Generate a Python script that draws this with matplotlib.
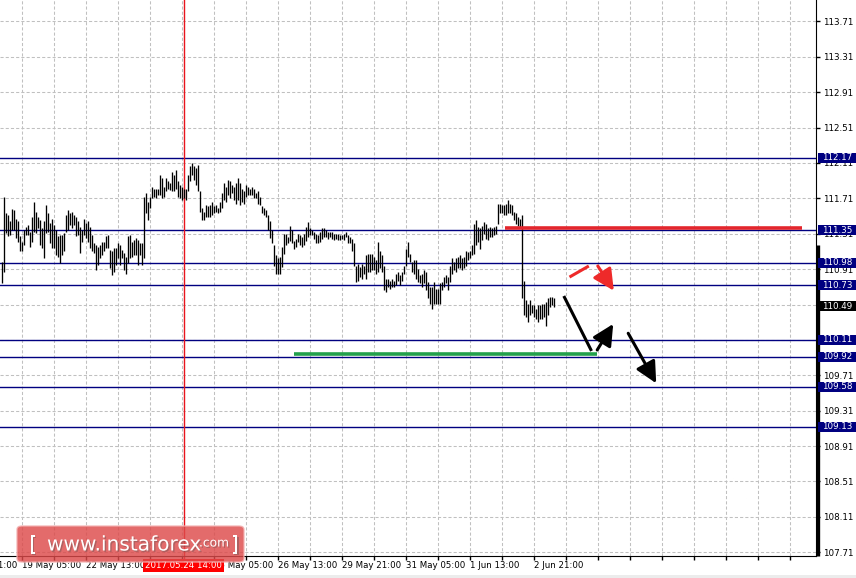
import matplotlib
matplotlib.use('Agg')
import matplotlib.pyplot as plt
from matplotlib.patches import Rectangle, FancyBboxPatch
from matplotlib.transforms import blended_transform_factory
import matplotlib.patheffects as pe

plt.rcParams['font.family'] = ['DejaVu Sans']

# ---------------- data (H1 bars, USD/JPY) ----------------
highs = [
    110.99, 111.72, 111.54, 111.52, 111.45, 111.59, 111.58, 111.48, 111.45, 111.28,
    111.22, 111.35, 111.39, 111.41, 111.33, 111.50, 111.67, 111.56, 111.50, 111.47,
    111.37, 111.45, 111.64, 111.54, 111.43, 111.48, 111.41, 111.35, 111.28, 111.30,
    111.30, 111.32, 111.52, 111.58, 111.54, 111.55, 111.52, 111.50, 111.45, 111.39,
    111.35, 111.48, 111.43, 111.45, 111.39, 111.30, 111.21, 111.18, 111.16, 111.18,
    111.22, 111.22, 111.28, 111.30, 111.13, 111.11, 111.15, 111.15, 111.20, 111.18,
    111.13, 111.09, 111.05, 111.28, 111.30, 111.22, 111.24, 111.26, 111.24, 111.20,
    111.20, 111.73, 111.77, 111.67, 111.73, 111.84, 111.82, 111.82, 111.82, 111.97,
    111.94, 111.84, 111.94, 111.90, 111.88, 112.01, 111.97, 112.03, 111.90, 111.86,
    111.84, 111.82, 111.82, 111.97, 112.07, 112.11, 112.07, 112.05, 112.09, 111.79,
    111.60, 111.56, 111.64, 111.62, 111.64, 111.67, 111.62, 111.64, 111.60, 111.67,
    111.77, 111.88, 111.84, 111.92, 111.90, 111.86, 111.84, 111.88, 111.94, 111.88,
    111.82, 111.79, 111.86, 111.84, 111.82, 111.84, 111.82, 111.77, 111.79, 111.73,
    111.62, 111.60, 111.58, 111.52, 111.45, 111.35, 111.18, 111.07, 111.03, 111.05,
    111.16, 111.31, 111.31, 111.27, 111.40, 111.35, 111.23, 111.25, 111.31, 111.29,
    111.27, 111.31, 111.39, 111.44, 111.37, 111.35, 111.33, 111.31, 111.29, 111.33,
    111.37, 111.37, 111.35, 111.33, 111.33, 111.33, 111.31, 111.31, 111.31, 111.29,
    111.29, 111.31, 111.33, 111.29, 111.27, 111.25, 111.20, 110.95, 110.97, 110.93,
    110.97, 110.95, 111.07, 111.08, 111.08, 111.08, 111.05, 111.01, 111.22, 111.12,
    111.07, 110.95, 110.80, 110.80, 110.78, 110.80, 110.78, 110.86, 110.88, 110.84,
    110.88, 110.95, 111.14, 111.22, 111.08, 110.99, 111.01, 111.01, 110.91, 110.84,
    110.86, 110.90, 110.88, 110.76, 110.71, 110.71, 110.76, 110.69, 110.69, 110.75,
    110.76, 110.82, 110.84, 110.82, 110.95, 111.03, 110.99, 111.03, 111.05, 111.07,
    111.03, 111.05, 111.12, 111.10, 111.12, 111.18, 111.42, 111.46, 111.39, 111.37,
    111.40, 111.44, 111.42, 111.37, 111.39, 111.37, 111.39, 111.40, 111.65, 111.65,
    111.63, 111.63, 111.65, 111.69, 111.65, 111.63, 111.56, 111.54, 111.50, 111.48,
    111.52, 110.78, 110.56, 110.52, 110.56, 110.50, 110.50, 110.46, 110.50, 110.50,
    110.52, 110.52, 110.54, 110.58, 110.60, 110.59, 110.58,
]
lows = [
    110.75, 110.88, 111.32, 111.28, 111.30, 111.35, 111.35, 111.26, 111.22, 111.11,
    111.11, 111.18, 111.30, 111.30, 111.16, 111.22, 111.33, 111.32, 111.37, 111.18,
    111.15, 111.03, 111.32, 111.33, 111.20, 111.15, 111.15, 111.07, 111.05, 110.98,
    111.07, 111.11, 111.33, 111.35, 111.41, 111.37, 111.41, 111.28, 111.30, 111.09,
    111.22, 111.30, 111.26, 111.22, 111.15, 111.11, 111.09, 110.90, 110.96, 111.03,
    111.07, 111.11, 111.15, 111.15, 110.92, 110.84, 110.88, 110.96, 111.03, 110.96,
    111.03, 110.90, 110.86, 110.98, 111.03, 111.05, 111.07, 111.07, 110.96, 111.07,
    110.96, 111.03, 111.54, 111.47, 111.60, 111.71, 111.73, 111.71, 111.75, 111.75,
    111.71, 111.73, 111.79, 111.82, 111.80, 111.79, 111.79, 111.82, 111.73, 111.71,
    111.69, 111.71, 111.69, 111.79, 111.90, 111.97, 111.92, 111.86, 111.79, 111.56,
    111.47, 111.47, 111.50, 111.50, 111.50, 111.52, 111.54, 111.56, 111.54, 111.56,
    111.60, 111.69, 111.67, 111.75, 111.71, 111.77, 111.69, 111.65, 111.69, 111.63,
    111.67, 111.65, 111.73, 111.75, 111.75, 111.75, 111.71, 111.71, 111.65, 111.63,
    111.54, 111.52, 111.50, 111.35, 111.26, 111.20, 110.94, 110.86, 110.86, 110.86,
    110.93, 111.08, 111.18, 111.20, 111.23, 111.20, 111.14, 111.16, 111.22, 111.18,
    111.16, 111.18, 111.23, 111.27, 111.29, 111.29, 111.25, 111.20, 111.20, 111.22,
    111.25, 111.27, 111.27, 111.25, 111.27, 111.25, 111.24, 111.25, 111.24, 111.24,
    111.25, 111.24, 111.27, 111.20, 111.20, 111.12, 110.95, 110.76, 110.78, 110.82,
    110.80, 110.86, 110.80, 110.88, 110.88, 110.90, 110.90, 110.86, 110.88, 110.92,
    110.88, 110.67, 110.65, 110.71, 110.69, 110.71, 110.71, 110.73, 110.78, 110.73,
    110.78, 110.86, 110.95, 111.05, 110.99, 110.88, 110.86, 110.80, 110.76, 110.75,
    110.71, 110.75, 110.67, 110.58, 110.52, 110.46, 110.52, 110.52, 110.52, 110.52,
    110.67, 110.71, 110.75, 110.67, 110.76, 110.86, 110.90, 110.88, 110.92, 110.92,
    110.90, 110.92, 110.95, 111.01, 111.03, 111.07, 111.08, 111.18, 111.22, 111.14,
    111.24, 111.31, 111.25, 111.24, 111.27, 111.27, 111.29, 111.31, 111.42, 111.54,
    111.54, 111.52, 111.52, 111.54, 111.54, 111.52, 111.46, 111.42, 111.40, 111.39,
    110.58, 110.39, 110.37, 110.31, 110.39, 110.41, 110.37, 110.35, 110.31, 110.35,
    110.35, 110.37, 110.27, 110.39, 110.48, 110.50, 110.48,
]

level_prices = [112.17, 111.35, 110.98, 110.73, 110.11, 109.92, 109.58, 109.13]
current_price = 110.49
tick_prices = [113.71, 113.31, 112.91, 112.51, 112.11, 111.71, 111.31, 110.91,
               110.51, 110.11, 109.71, 109.31, 108.91, 108.51, 108.11, 107.71]

date_label_pos = [-22, 10, 42, 106, 138, 170, 202, 234, 266]
date_labels = ["17 May 21:00", "19 May 05:00", "22 May 13:00",
               "25 May 05:00", "26 May 13:00", "29 May 21:00", "31 May 05:00",
               "1 Jun 13:00", "2 Jun 21:00"]
grid_x = list(range(10, 400, 16))
cursor_bar = 91
cursor_label = "2017.05.24 14:00"

resistance = dict(x=[251.5, 400.35], y=[111.38, 111.38])
support = dict(x=[146, 297.5], y=[109.95, 109.95])
red_segment = dict(x=[284, 293.65], y=[110.82, 110.945])
red_arrow = dict(x=[298.15, 306.15], y=[110.945, 110.666])
black_segment = dict(x=[281.15, 295.0], y=[110.606, 109.985])
black_arrow_up = dict(x=[297.85, 305.85], y=[109.996, 110.29])
black_arrow_down = dict(x=[313.35, 327.35], y=[110.185, 109.62])

# ---------------- figure ----------------
W, H = 856, 578
fig = plt.figure(figsize=(W / 100, H / 100), dpi=100)
fig.patch.set_facecolor('white')
ax = fig.add_axes([0, 22 / H, 816 / W, 556 / H])
ax.set_facecolor('white')
ax.set_xlim(-0.75, 407.25)
ymin, ymax = 107.668, 113.951
ax.set_ylim(ymin, ymax)

grid_kw = dict(color='#c0c0c0', lw=0.75, dashes=(3, 2), zorder=0.5)
for p in tick_prices:
    ax.axhline(p, **grid_kw)
for gx in grid_x:
    ax.axvline(gx, **grid_kw)

# bars
ax.vlines(range(len(highs)), lows, highs, color='black', lw=0.95, zorder=3)

# horizontal levels
for p in level_prices:
    ax.axhline(p, color='#000080', lw=1.0, zorder=2)

# cursor line
ax.axvline(cursor_bar, ymin=-0.012, ymax=1, color='#e8141c', lw=1.0,
           zorder=2.5, clip_on=False)

# resistance / support
ax.plot(resistance['x'], resistance['y'], color='#e3262d', lw=2.6,
        solid_capstyle='butt', zorder=4)
ax.plot(support['x'], support['y'], color='#22a04b', lw=2.6,
        solid_capstyle='butt', zorder=4)

# forecast drawings
ax.plot(red_segment['x'], red_segment['y'], color='#ee2a2a', lw=2.2,
        solid_capstyle='butt', zorder=5)
ax.plot(black_segment['x'], black_segment['y'], color='black', lw=2.2,
        solid_capstyle='butt', zorder=5)


def arrow(d, color):
    ax.annotate('', xy=(d['x'][1], d['y'][1]), xytext=(d['x'][0], d['y'][0]),
                arrowprops=dict(arrowstyle='-|>,head_length=0.8,head_width=0.4',
                                color=color, lw=2.2, shrinkA=0, shrinkB=0,
                                mutation_scale=16), zorder=5)


arrow(red_arrow, '#ee2a2a')
arrow(black_arrow_up, 'black')
arrow(black_arrow_down, 'black')

# axes styling
for s in ['left', 'top']:
    ax.spines[s].set_visible(False)
ax.spines['right'].set_color('black')
ax.spines['bottom'].set_color('black')
ax.yaxis.tick_right()
ax.set_yticks(tick_prices)
ax.set_yticklabels([f"{p:.2f}" for p in tick_prices])
ax.tick_params(axis='y', length=3, width=1, pad=2, labelsize=6.3,
               colors='black')
ax.set_xticks(grid_x)
ax.set_xticklabels([])
ax.tick_params(axis='x', length=3, width=1, direction='out')

# thick part of price scale
trY = blended_transform_factory(ax.transAxes, ax.transData)
ax.plot([1.002, 1.002], [111.18, ymin], transform=trY, color='black', lw=2.4,
        clip_on=False, solid_capstyle='butt', zorder=6)

# date labels
trX = blended_transform_factory(ax.transData, ax.transAxes)
for pos, lab in zip(date_label_pos, date_labels):
    ax.text(pos, -0.017, lab, transform=trX, ha='left', va='center',
            fontsize=6.2, color='black', clip_on=False, zorder=6)
ax.text(cursor_bar, -0.017, cursor_label, transform=trX, ha='center',
        va='center', fontsize=6.2, color='white', clip_on=False, zorder=8,
        bbox=dict(boxstyle='square,pad=0.25', fc='#ff0000', ec='none'))

# price labels on the scale
trF = blended_transform_factory(fig.transFigure, ax.transData)
box_h = 10 / 88.5
for p, col in [(p, '#000080') for p in level_prices] + [(current_price, 'black')]:
    ax.add_patch(Rectangle((818 / W, p - box_h / 2), 38 / W, box_h,
                           transform=trF, fc=col, ec='none', clip_on=False,
                           zorder=9))
    ax.text(822.5 / W, p, f"{p:.2f}", transform=trF, ha='left', va='center',
            fontsize=6.3, color='white', clip_on=False, zorder=10)

# watermark logo
logo = FancyBboxPatch((17 / W, (H - 562) / H), 227 / W, 36 / H,
                      boxstyle='round,pad=0,rounding_size=0.006',
                      transform=fig.transFigure, fc='#dd4a4a', ec='#f3b0b0',
                      lw=1.0, alpha=0.82, zorder=20)
fig.patches.append(logo)
shadow = [pe.withSimplePatchShadow(offset=(1, -1), alpha=0.35)]
fig.text(29 / W, (H - 545) / H, '[', fontsize=15, color='white', va='center',
         ha='left', path_effects=shadow, zorder=21)
fig.text(47 / W, (H - 545) / H, 'www.instaforex', fontsize=14.5,
         color='white', va='center', ha='left', path_effects=shadow,
         zorder=21)
fig.text(199 / W, (H - 543) / H, '.com', fontsize=8.8, color='white',
         va='center', ha='left', path_effects=shadow, zorder=21)
fig.text(231 / W, (H - 545) / H, ']', fontsize=15, color='white', va='center',
         ha='left', path_effects=shadow, zorder=21)

fig.patches.append(Rectangle((0, 0), 1, 3 / H, transform=fig.transFigure,
                             fc='#ececec', ec='none'))

fig.savefig('out.png', dpi=100)
